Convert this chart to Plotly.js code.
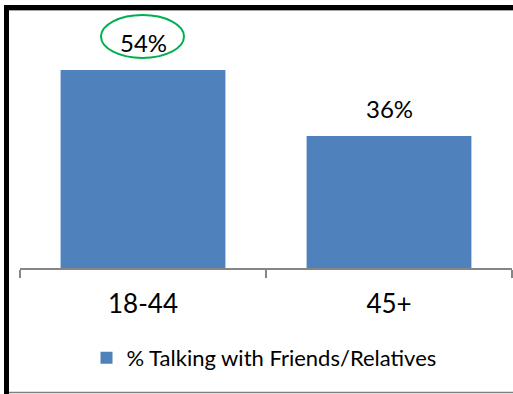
<!DOCTYPE html>
<html>
<head>
<meta charset="utf-8">
<script src="https://cdn.plot.ly/plotly-3.0.1.min.js"></script>
<style>
  html, body { margin: 0; padding: 0; background: #fff; }
  #chart { width: 513px; height: 394px; }
</style>
</head>
<body>
<div id="chart"></div>
<script>
// ---- data ----
const categories = ["18-44", "45+"];
const values = [54, 36];
const labels = ["54%", "36%"];
const seriesName = "% Talking with Friends/Relatives";

// ---- layout helpers ----
const W = 513, H = 394;
const M = {l: 20, r: 1, t: 48, b: 126};
const pw = W - M.l - M.r, ph = H - M.t - M.b;
const px = x => (x - M.l) / pw;           // pixel -> paper x
const py = y => (H - M.b - y) / ph;       // pixel -> paper y

const FONT = "Lato, 'Open Sans', sans-serif";

const trace = {
  type: "bar",
  x: categories,
  y: values,
  name: seriesName,
  marker: {color: "#4F81BD"},
  hoverinfo: "skip"
};

const annotations = categories.map((c, i) => ({
  x: c, y: values[i], xref: "x", yref: "y",
  text: labels[i], showarrow: false,
  yanchor: "middle", yshift: 28,
  font: {family: FONT, size: 24, color: "#000"}
}));

const shapes = [
  // highlight ellipse around the first label
  {type: "circle", xref: "paper", yref: "paper", layer: "above",
   x0: px(101), x1: px(184), y0: py(58), y1: py(15),
   line: {color: "#00B050", width: 2}},
  // outer frame (black, left & top), thin grey inner line, grey bottom
  {type: "rect", xref: "paper", yref: "paper", layer: "above",
   x0: px(4), x1: px(9), y0: py(394), y1: py(5),
   fillcolor: "#000", line: {width: 0}},
  {type: "rect", xref: "paper", yref: "paper", layer: "above",
   x0: px(4), x1: px(513), y0: py(10), y1: py(5),
   fillcolor: "#000", line: {width: 0}},
  {type: "line", xref: "paper", yref: "paper",
   x0: px(9), x1: px(513), y0: py(10.5), y1: py(10.5),
   line: {color: "#A6A6A6", width: 1}},
  {type: "line", xref: "paper", yref: "paper",
   x0: px(9), x1: px(513), y0: py(392.5), y1: py(392.5),
   line: {color: "#808080", width: 1.5}}
];

const layout = {
  width: W, height: H,
  margin: M,
  paper_bgcolor: "#fff", plot_bgcolor: "#fff",
  font: {family: FONT, size: 22, color: "#000"},
  bargap: 0.33,
  showlegend: true,
  legend: {
    orientation: "h", x: px(264), xanchor: "center",
    y: py(358), yanchor: "middle",
    font: {family: FONT, size: 22, color: "#000"},
    itemclick: false, itemdoubleclick: false
  },
  xaxis: {
    type: "category",
    range: [-0.5, 1.5],
    showline: true, linecolor: "#868686", linewidth: 1.5,
    ticks: "outside", tickson: "boundaries", ticklen: 8,
    tickcolor: "#868686", tickwidth: 1.5,
    ticklabelstandoff: 12,
    tickfont: {family: FONT, size: 26, color: "#000"},
    showgrid: false, zeroline: false, fixedrange: true
  },
  yaxis: {
    range: [0, 60],
    visible: false, showgrid: false, zeroline: false, fixedrange: true
  },
  annotations: annotations,
  shapes: shapes
};

Plotly.newPlot("chart", [trace], layout, {displayModeBar: false, staticPlot: true});
</script>
</body>
</html>
